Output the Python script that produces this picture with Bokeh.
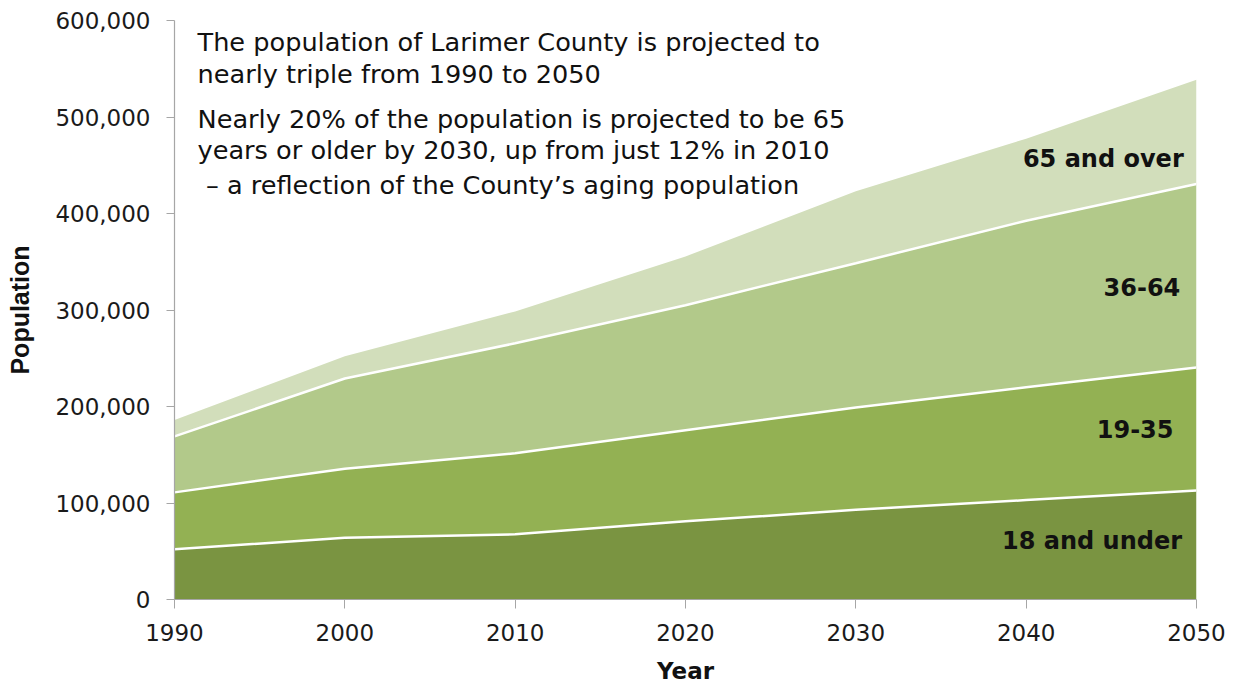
from bokeh.plotting import figure
from bokeh.models import Range1d, FixedTicker, NumeralTickFormatter, Label, ColumnDataSource
from bokeh.embed import file_html
from bokeh.resources import INLINE

years = [1990, 2000, 2010, 2020, 2030, 2040, 2050]
age_18_under = [52000, 64000, 67500, 81000, 93000, 103000, 113000]
age_19_35 = [59000, 71500, 84000, 94500, 106000, 117000, 127500]
age_36_64 = [58000, 93500, 114000, 129500, 149500, 172500, 190000]
age_65_over = [17000, 23000, 33000, 50500, 74500, 85000, 108000]
series_names = ["18 and under", "19-35", "36-64", "65 and over"]
series_colors = ["#7a9441", "#93b153", "#b2c98a", "#d2debb"]
y_ticks = [0, 100000, 200000, 300000, 400000, 500000, 600000]
x_ticks = [1990, 2000, 2010, 2020, 2030, 2040, 2050]

FONT = "DejaVu Sans"

p = figure(width=1235, height=686, output_backend="svg", toolbar_location=None,
           x_range=Range1d(1990, 2050), y_range=Range1d(0, 600000),
           min_border_left=174, min_border_right=39, min_border_top=20, min_border_bottom=86)
p.outline_line_color = None
p.xgrid.visible = False
p.ygrid.visible = False
p.background_fill_color = "white"
p.border_fill_color = "white"

data = {"year": years}
keys = []
for name, vals in zip(series_names, [age_18_under, age_19_35, age_36_64, age_65_over]):
    data[name] = vals
    keys.append(name)
src = ColumnDataSource(data)
p.varea_stack(stackers=keys, x="year", color=series_colors, source=src)

# white separator lines at top of the three lower layers
cum = [0] * len(years)
for vals in [age_18_under, age_19_35, age_36_64]:
    cum = [c + v for c, v in zip(cum, vals)]
    p.line(years, cum, line_color="white", line_width=2.5)

# axes
for ax in (p.xaxis[0], p.yaxis[0]):
    ax.axis_line_color = "#a6a6a6"
    ax.axis_line_width = 1.2
    ax.major_tick_line_color = "#a6a6a6"
    ax.major_tick_in = 0
    ax.minor_tick_line_color = None
    ax.major_label_text_font = FONT
    ax.major_label_text_font_size = "23px"
    ax.major_label_text_color = "#1a1a1a"
    ax.axis_label_text_font_style = "bold"
    ax.axis_label_text_color = "#111111"

p.yaxis.ticker = FixedTicker(ticks=y_ticks)
p.yaxis.formatter = NumeralTickFormatter(format="0,0")
p.yaxis.major_tick_out = 8
p.yaxis.major_label_standoff = 16
p.yaxis.axis_label = "Population"
p.yaxis.axis_label_text_font = "Liberation Sans"
p.yaxis.axis_label_text_font_size = "25px"
p.yaxis.axis_label_standoff = 18

p.xaxis.ticker = FixedTicker(ticks=x_ticks)
p.xaxis.major_tick_out = 9
p.xaxis.major_label_standoff = 15
p.xaxis.axis_label = "Year"
p.xaxis.axis_label_text_font = FONT
p.xaxis.axis_label_text_font_size = "23px"
p.xaxis.axis_label_standoff = 14

# annotation text
notes = [
    ("The population of Larimer County is projected to", 1991.35, 578000),
    ("nearly triple from 1990 to 2050", 1991.35, 545000),
    ("Nearly 20% of the population is projected to be 65", 1991.35, 497500),
    ("years or older by 2030, up from just 12% in 2010", 1991.35, 465500),
    ("\u2013 a reflection of the County\u2019s aging population", 1991.85, 430000),
]
for txt, x, y in notes:
    p.add_layout(Label(x=x, y=y, text=txt, text_font=FONT, text_font_size="25.6px",
                       text_color="#111111", text_baseline="middle", text_align="left"))

# area labels
area_labels = [
    ("65 and over", 2049.25, 456000),
    ("36-64", 2049.05, 324000),
    ("19-35", 2048.65, 177000),
    ("18 and under", 2049.15, 61000),
]
for txt, x, y in area_labels:
    p.add_layout(Label(x=x, y=y, text=txt, text_font=FONT, text_font_size="24px",
                       text_font_style="bold", text_color="#111111",
                       text_baseline="middle", text_align="right"))

open("out.html", "w").write(file_html(p, INLINE))
